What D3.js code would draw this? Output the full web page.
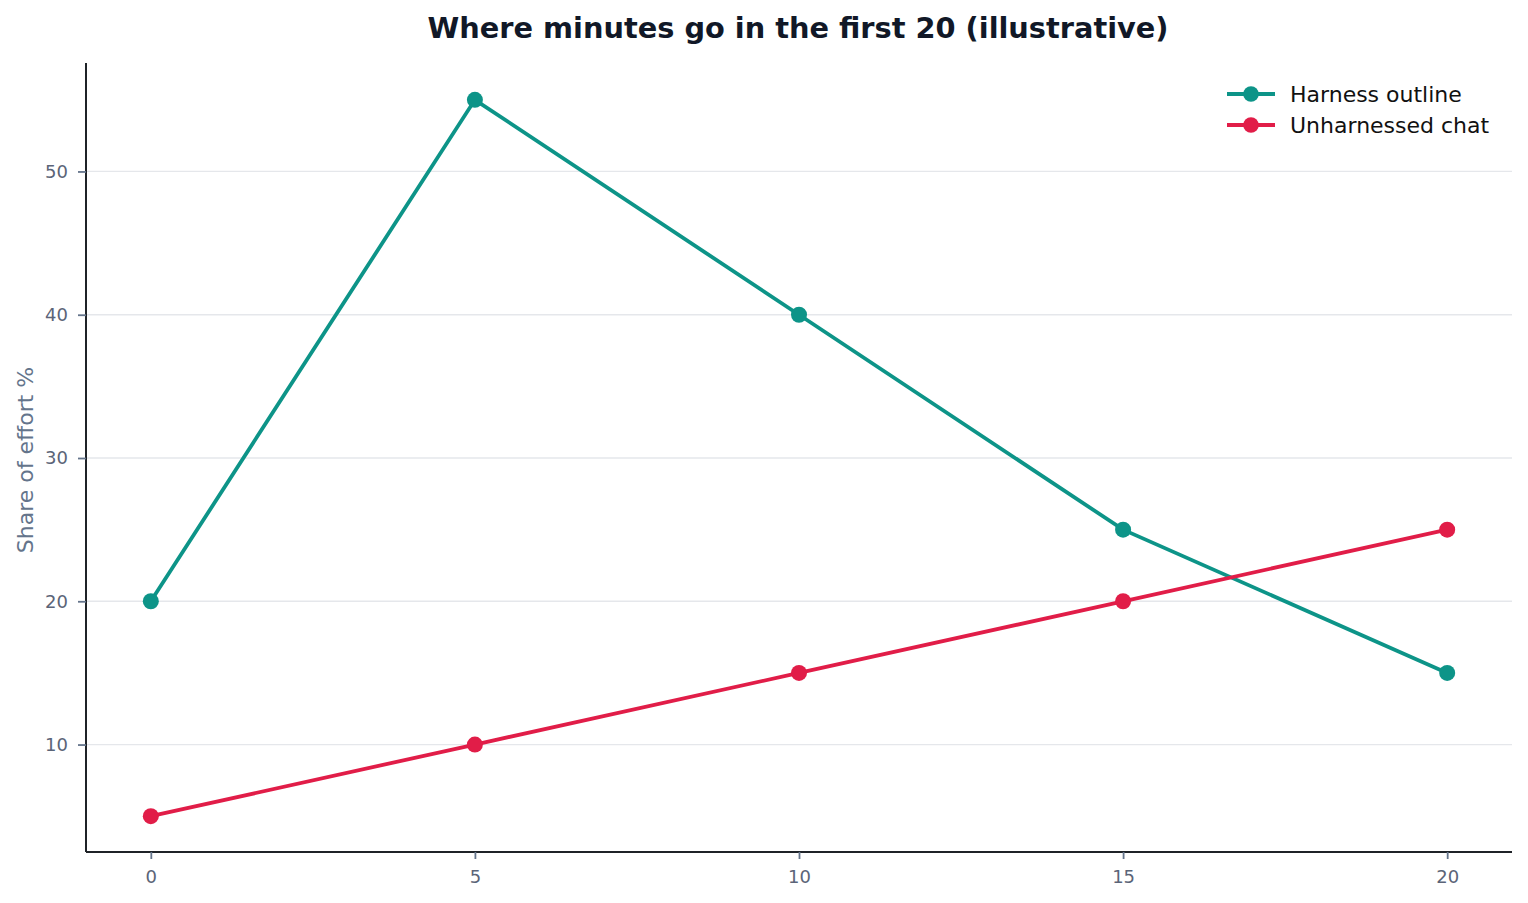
<!DOCTYPE html>
<html>
<head>
<meta charset="utf-8">
<script src="https://cdn.jsdelivr.net/npm/d3@7"></script>
<style>
  body { margin: 0; background: #fff; }
  text { font-family: "DejaVu Sans", sans-serif; }
</style>
</head>
<body>
<div id="chart"></div>
<script>
let minutes = [0, 5, 10, 15, 20];
let harness = [20, 55, 40, 25, 15];
let unharnessed = [5, 10, 15, 20, 25];
let seriesNames = ['Harness outline', 'Unharnessed chat'];
let seriesColors = ['#0d9488', '#e11d48'];
let xTicks = [0, 5, 10, 15, 20];
let yTicks = [10, 20, 30, 40, 50];

let width = 1528, height = 903;
let margin = {top: 64, right: 16, bottom: 51, left: 86};

let svg = d3.select('#chart').append('svg')
    .attr('width', width).attr('height', height);

let x = d3.scaleLinear().domain([-1, 21]).range([margin.left, width - margin.right]);
let y = d3.scaleLinear().domain([2.5, 57.5]).range([height - margin.bottom, margin.top]);

// grid
svg.append('g').selectAll('line')
    .data(yTicks)
    .join('line')
    .attr('x1', margin.left).attr('x2', width - margin.right)
    .attr('y1', d => y(d)).attr('y2', d => y(d))
    .attr('stroke', '#e5e7eb').attr('stroke-width', 1.3);

// axes
let xAxis = svg.append('g')
    .attr('transform', `translate(0,${height - margin.bottom})`)
    .call(d3.axisBottom(x).tickValues(xTicks).tickSize(7).tickPadding(11).tickSizeOuter(0));
let yAxis = svg.append('g')
    .attr('transform', `translate(${margin.left},0)`)
    .call(d3.axisLeft(y).tickValues(yTicks).tickSize(8).tickPadding(10).tickSizeOuter(0));

[xAxis, yAxis].forEach(a => {
    a.select('.domain').attr('stroke', '#1f2328').attr('stroke-width', 2);
    a.selectAll('.tick line').attr('stroke', '#64748b').attr('stroke-width', 1.8);
    a.selectAll('.tick text').attr('fill', '#5b6478')
        .style('font-size', '18px').style('font-family', '"DejaVu Sans", sans-serif');
});
xAxis.select('.domain').attr('d', `M${margin.left},0H${width - margin.right}`);
yAxis.select('.domain').attr('d', `M0,${height - margin.bottom}V${margin.top - 1}`);

// y label
svg.append('text')
    .attr('transform', `translate(33,${(margin.top + height - margin.bottom) / 2 + 2}) rotate(-90)`)
    .attr('text-anchor', 'middle')
    .attr('fill', '#64748b')
    .style('font-size', '22px')
    .text('Share of effort %');

// title
svg.append('text')
    .attr('x', 798).attr('y', 38)
    .attr('text-anchor', 'middle')
    .attr('fill', '#111827')
    .style('font-size', '28.8px').style('font-weight', 'bold')
    .text('Where minutes go in the first 20 (illustrative)');

// lines
let line = d3.line().x((d, i) => x(minutes[i])).y(d => y(d));
[harness, unharnessed].forEach((vals, k) => {
    svg.append('path')
        .datum(vals)
        .attr('d', line)
        .attr('fill', 'none')
        .attr('stroke', seriesColors[k])
        .attr('stroke-width', 3.8);
    svg.append('g').selectAll('circle')
        .data(vals)
        .join('circle')
        .attr('cx', (d, i) => x(minutes[i]))
        .attr('cy', d => y(d))
        .attr('r', 8)
        .attr('fill', seriesColors[k]);
});

// legend
let legend = svg.append('g').attr('transform', 'translate(1227,94)');
seriesNames.forEach((name, k) => {
    let g = legend.append('g').attr('transform', `translate(0,${k * 31})`);
    g.append('line').attr('x1', 0).attr('x2', 48)
        .attr('stroke', seriesColors[k]).attr('stroke-width', 3.8);
    g.append('circle').attr('cx', 24).attr('r', 7.8).attr('fill', seriesColors[k]);
    g.append('text').attr('x', 63).attr('dy', '0.35em')
        .attr('fill', '#111')
        .style('font-size', '22px')
        .text(name);
});
</script>
</body>
</html>
